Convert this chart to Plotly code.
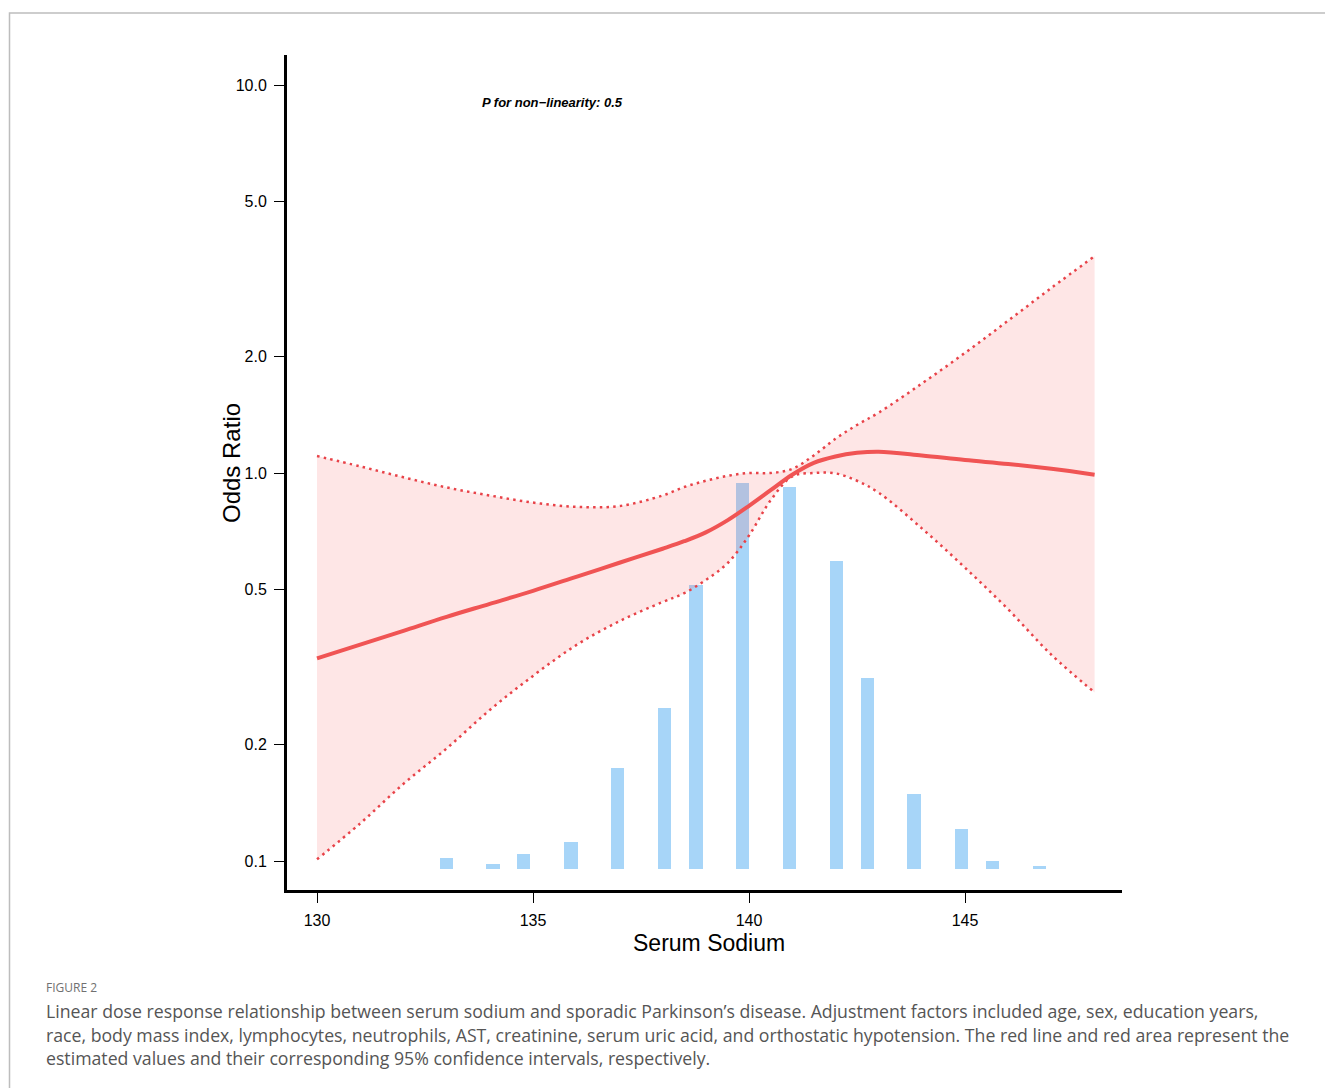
import plotly.graph_objects as go

# ---------------- data ----------------
sodium = [130, 131, 132, 133, 134, 135, 136, 137, 138, 138.5, 139, 139.5, 140,
          140.5, 141, 141.5, 142, 142.5, 143, 144, 145, 146, 147, 148]
or_est = [0.333, 0.361, 0.392, 0.426, 0.46, 0.497, 0.54, 0.587, 0.638, 0.667, 0.703,
          0.755, 0.823, 0.903, 0.99, 1.062, 1.103, 1.127, 1.135, 1.11, 1.08, 1.055,
          1.025, 0.99]
or_upper = [1.106, 1.04, 0.975, 0.918, 0.875, 0.839, 0.818, 0.822, 0.875, 0.92, 0.955,
            0.983, 1.0, 1.0, 1.025, 1.11, 1.225, 1.33, 1.43, 1.7, 2.04, 2.47, 3.0, 3.62]
or_lower = [0.101, 0.125, 0.158, 0.195, 0.245, 0.30, 0.36, 0.415, 0.465, 0.49, 0.53,
            0.585, 0.69, 0.85, 0.98, 1.0, 0.998, 0.955, 0.89, 0.72, 0.57, 0.445,
            0.34, 0.272]

hist_x = [133.0, 134.07, 134.78, 135.88, 136.96, 138.04, 138.77, 139.85, 140.94,
          142.02, 142.74, 143.82, 144.92, 145.64, 146.72]
hist_h = [11, 5, 15, 27, 101, 161, 284, 386, 382, 308, 191, 75, 40, 8, 2.5]

y_tickvals = [0.1, 0.2, 0.5, 1.0, 2.0, 5.0, 10.0]
y_ticktext = ["0.1", "0.2", "0.5", "1.0", "2.0", "5.0", "10.0"]
x_tickvals = [130, 135, 140, 145]
x_ticktext = ["130", "135", "140", "145"]

caption_lines = [
    "Linear dose response relationship between serum sodium and sporadic Parkinson\u2019s disease. Adjustment factors included age, sex, education years,",
    "race, body mass index, lymphocytes, neutrophils, AST, creatinine, serum uric acid, and orthostatic hypotension. The red line and red area represent the",
    "estimated values and their corresponding 95% confidence intervals, respectively.",
]

# ---------------- layout geometry ----------------
OFF = 8  # page body margin offset
W, H = 1333 - OFF, 1088 - OFF
L, R, T, B = 287, 1122, 55, 890   # in screen pixels
PW, PH = R - L, B - T


def px(x):
    return (x - L) / PW


def py(y):
    return (B - y) / PH


RED = "rgb(240,84,84)"
DOT = "rgb(232,66,72)"

fig = go.Figure()

fig.add_trace(go.Bar(x=hist_x, y=hist_h, width=0.31, marker=dict(color="#A7D5F8", line=dict(width=0)),
                     xaxis="x", yaxis="y", showlegend=False, hoverinfo="skip"))

fig.add_trace(go.Scatter(x=sodium, y=or_lower, mode="lines", line=dict(width=0, shape="spline"),
                         xaxis="x", yaxis="y2", showlegend=False, hoverinfo="skip"))
fig.add_trace(go.Scatter(x=sodium, y=or_upper, mode="lines", line=dict(width=0, shape="spline"),
                         fill="tonexty", fillcolor="rgba(245,90,90,0.15)",
                         xaxis="x", yaxis="y2", showlegend=False, hoverinfo="skip"))
for ci in (or_lower, or_upper):
    fig.add_trace(go.Scatter(x=sodium, y=ci, mode="lines",
                             line=dict(width=2.5, color=DOT, shape="spline", dash="2.5px,4.2px"),
                             xaxis="x", yaxis="y2", showlegend=False, hoverinfo="skip"))
fig.add_trace(go.Scatter(x=sodium, y=or_est, mode="lines",
                         line=dict(width=4, color=RED, shape="spline"),
                         xaxis="x", yaxis="y2", showlegend=False, hoverinfo="skip"))

x_range = [130 - 30 / 43.2, 130 + 805 / 43.2]
y2_range = [(473 - 890) / 388, (473 - 55) / 388]
bar_zero_px = 868.7
y_range = [-(B - bar_zero_px), bar_zero_px - T]

fig.update_layout(
    width=W, height=H,
    margin=dict(l=L - OFF, r=1333 - R, t=T - OFF, b=1088 - B, pad=0),
    paper_bgcolor="white", plot_bgcolor="white",
    font=dict(family="Liberation Sans, Arial, sans-serif", color="black"),
    bargap=0,
    xaxis=dict(range=x_range, tickvals=x_tickvals, ticktext=x_ticktext,
               showgrid=False, zeroline=False, showline=True, linecolor="black", linewidth=3,
               ticks="outside", ticklen=10, tickwidth=1.3, tickcolor="black",
               tickfont=dict(size=16, color="black"), ticklabelstandoff=4),
    yaxis=dict(range=y_range, visible=False, showgrid=False, zeroline=False, fixedrange=True),
    yaxis2=dict(type="log", range=y2_range, overlaying="y", side="left",
                tickvals=y_tickvals, ticktext=y_ticktext,
                showgrid=False, zeroline=False, showline=True, linecolor="black", linewidth=3,
                ticks="outside", ticklen=10, tickwidth=1.3, tickcolor="black",
                tickfont=dict(size=16, color="black"), ticklabelstandoff=4),
)

ann = []
ann.append(dict(text="<b><i>P for non\u2212linearity: 0.5</i></b>", x=px(480), y=py(102),
                xref="paper", yref="paper", xanchor="left", yanchor="middle", showarrow=False,
                font=dict(size=13, color="black")))
ann.append(dict(text="Odds Ratio", x=px(231), y=py(463), xref="paper", yref="paper",
                textangle=-90, xanchor="center", yanchor="middle", showarrow=False,
                font=dict(size=24, color="black")))
ann.append(dict(text="Serum Sodium", x=px(709), y=py(943), xref="paper", yref="paper",
                xanchor="center", yanchor="middle", showarrow=False,
                font=dict(size=23, color="black")))
ann.append(dict(text="FIGURE 2", x=px(44), y=py(987), xref="paper", yref="paper",
                xanchor="left", yanchor="middle", showarrow=False,
                font=dict(size=12, color="#707070", family="Open Sans, Noto Sans, sans-serif")))
for i, line in enumerate(caption_lines):
    ann.append(dict(text=line, x=px(44), y=py(1011 + 23.5 * i), xref="paper", yref="paper",
                    xanchor="left", yanchor="middle", showarrow=False,
                    font=dict(size=17.7, color="#555555", family="Open Sans, Noto Sans, sans-serif")))
fig.update_layout(annotations=ann)

fig.add_shape(type="rect", xref="paper", yref="paper",
              x0=px(9.5), x1=px(1330.5), y0=py(1100), y1=py(13),
              line=dict(color="#BDBDBD", width=1.5), fillcolor="rgba(0,0,0,0)", layer="below")

fig.write_html("out.html")
